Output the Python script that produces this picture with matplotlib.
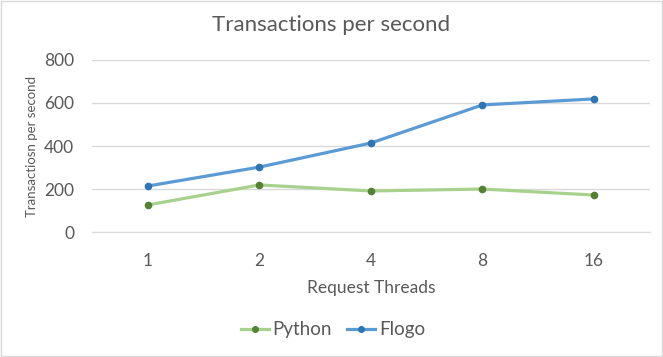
import matplotlib
matplotlib.use("Agg")
import matplotlib.pyplot as plt
from matplotlib.patches import Rectangle

# data
threads = ["1", "2", "4", "8", "16"]
python_tps = [126, 219, 191, 200, 172]
flogo_tps = [214, 302, 414, 591, 619]

plt.rcParams['font.family'] = ['Lato', 'DejaVu Sans']
txt = '#595959'

fig = plt.figure(figsize=(6.63, 3.57), dpi=100)
ax = fig.add_axes([0.139, 0.350, 0.841, 0.482])

x = list(range(len(threads)))
ax.plot(x, python_tps, color='#a9d18e', lw=2.3, marker='o', ms=4.5,
        mfc='#548235', mec='#548235', label='Python')
ax.plot(x, flogo_tps, color='#5b9bd5', lw=2.3, marker='o', ms=4.5,
        mfc='#2e75b6', mec='#2e75b6', label='Flogo')

ax.set_xlim(-0.5, len(threads) - 0.5)
ax.set_ylim(0, 800)
ax.set_yticks([0, 200, 400, 600, 800])
ax.set_xticks(x)
ax.set_xticklabels(threads)
ax.grid(axis='y', color='#d9d9d9', lw=1)
ax.set_axisbelow(True)
for s in ['top', 'right', 'left']:
    ax.spines[s].set_visible(False)
ax.spines['bottom'].set_color('#d9d9d9')
ax.tick_params(length=0, labelsize=12.5, colors=txt)
ax.tick_params(axis='x', pad=15)
ax.tick_params(axis='y', pad=13)

ax.set_xlabel('Request Threads', fontsize=12.5, color=txt, labelpad=8)
ax.set_ylabel('Transactiosn per second', fontsize=9.5, color=txt, labelpad=4)
fig.text(0.5, 0.93, 'Transactions per second', ha='center', va='center',
         fontsize=16, color=txt)

fig.legend(loc='center', bbox_to_anchor=(0.502, 0.076), ncol=2, frameon=False,
           fontsize=13.5, labelcolor=txt, handlelength=1.5, handletextpad=0.2,
           columnspacing=0.8, markerscale=0.9)

fig.patches.append(Rectangle((0.002, 0.003), 0.996, 0.994, transform=fig.transFigure,
                             fill=False, edgecolor='#d9d9d9', lw=1))

fig.savefig('out.png', dpi=100)
